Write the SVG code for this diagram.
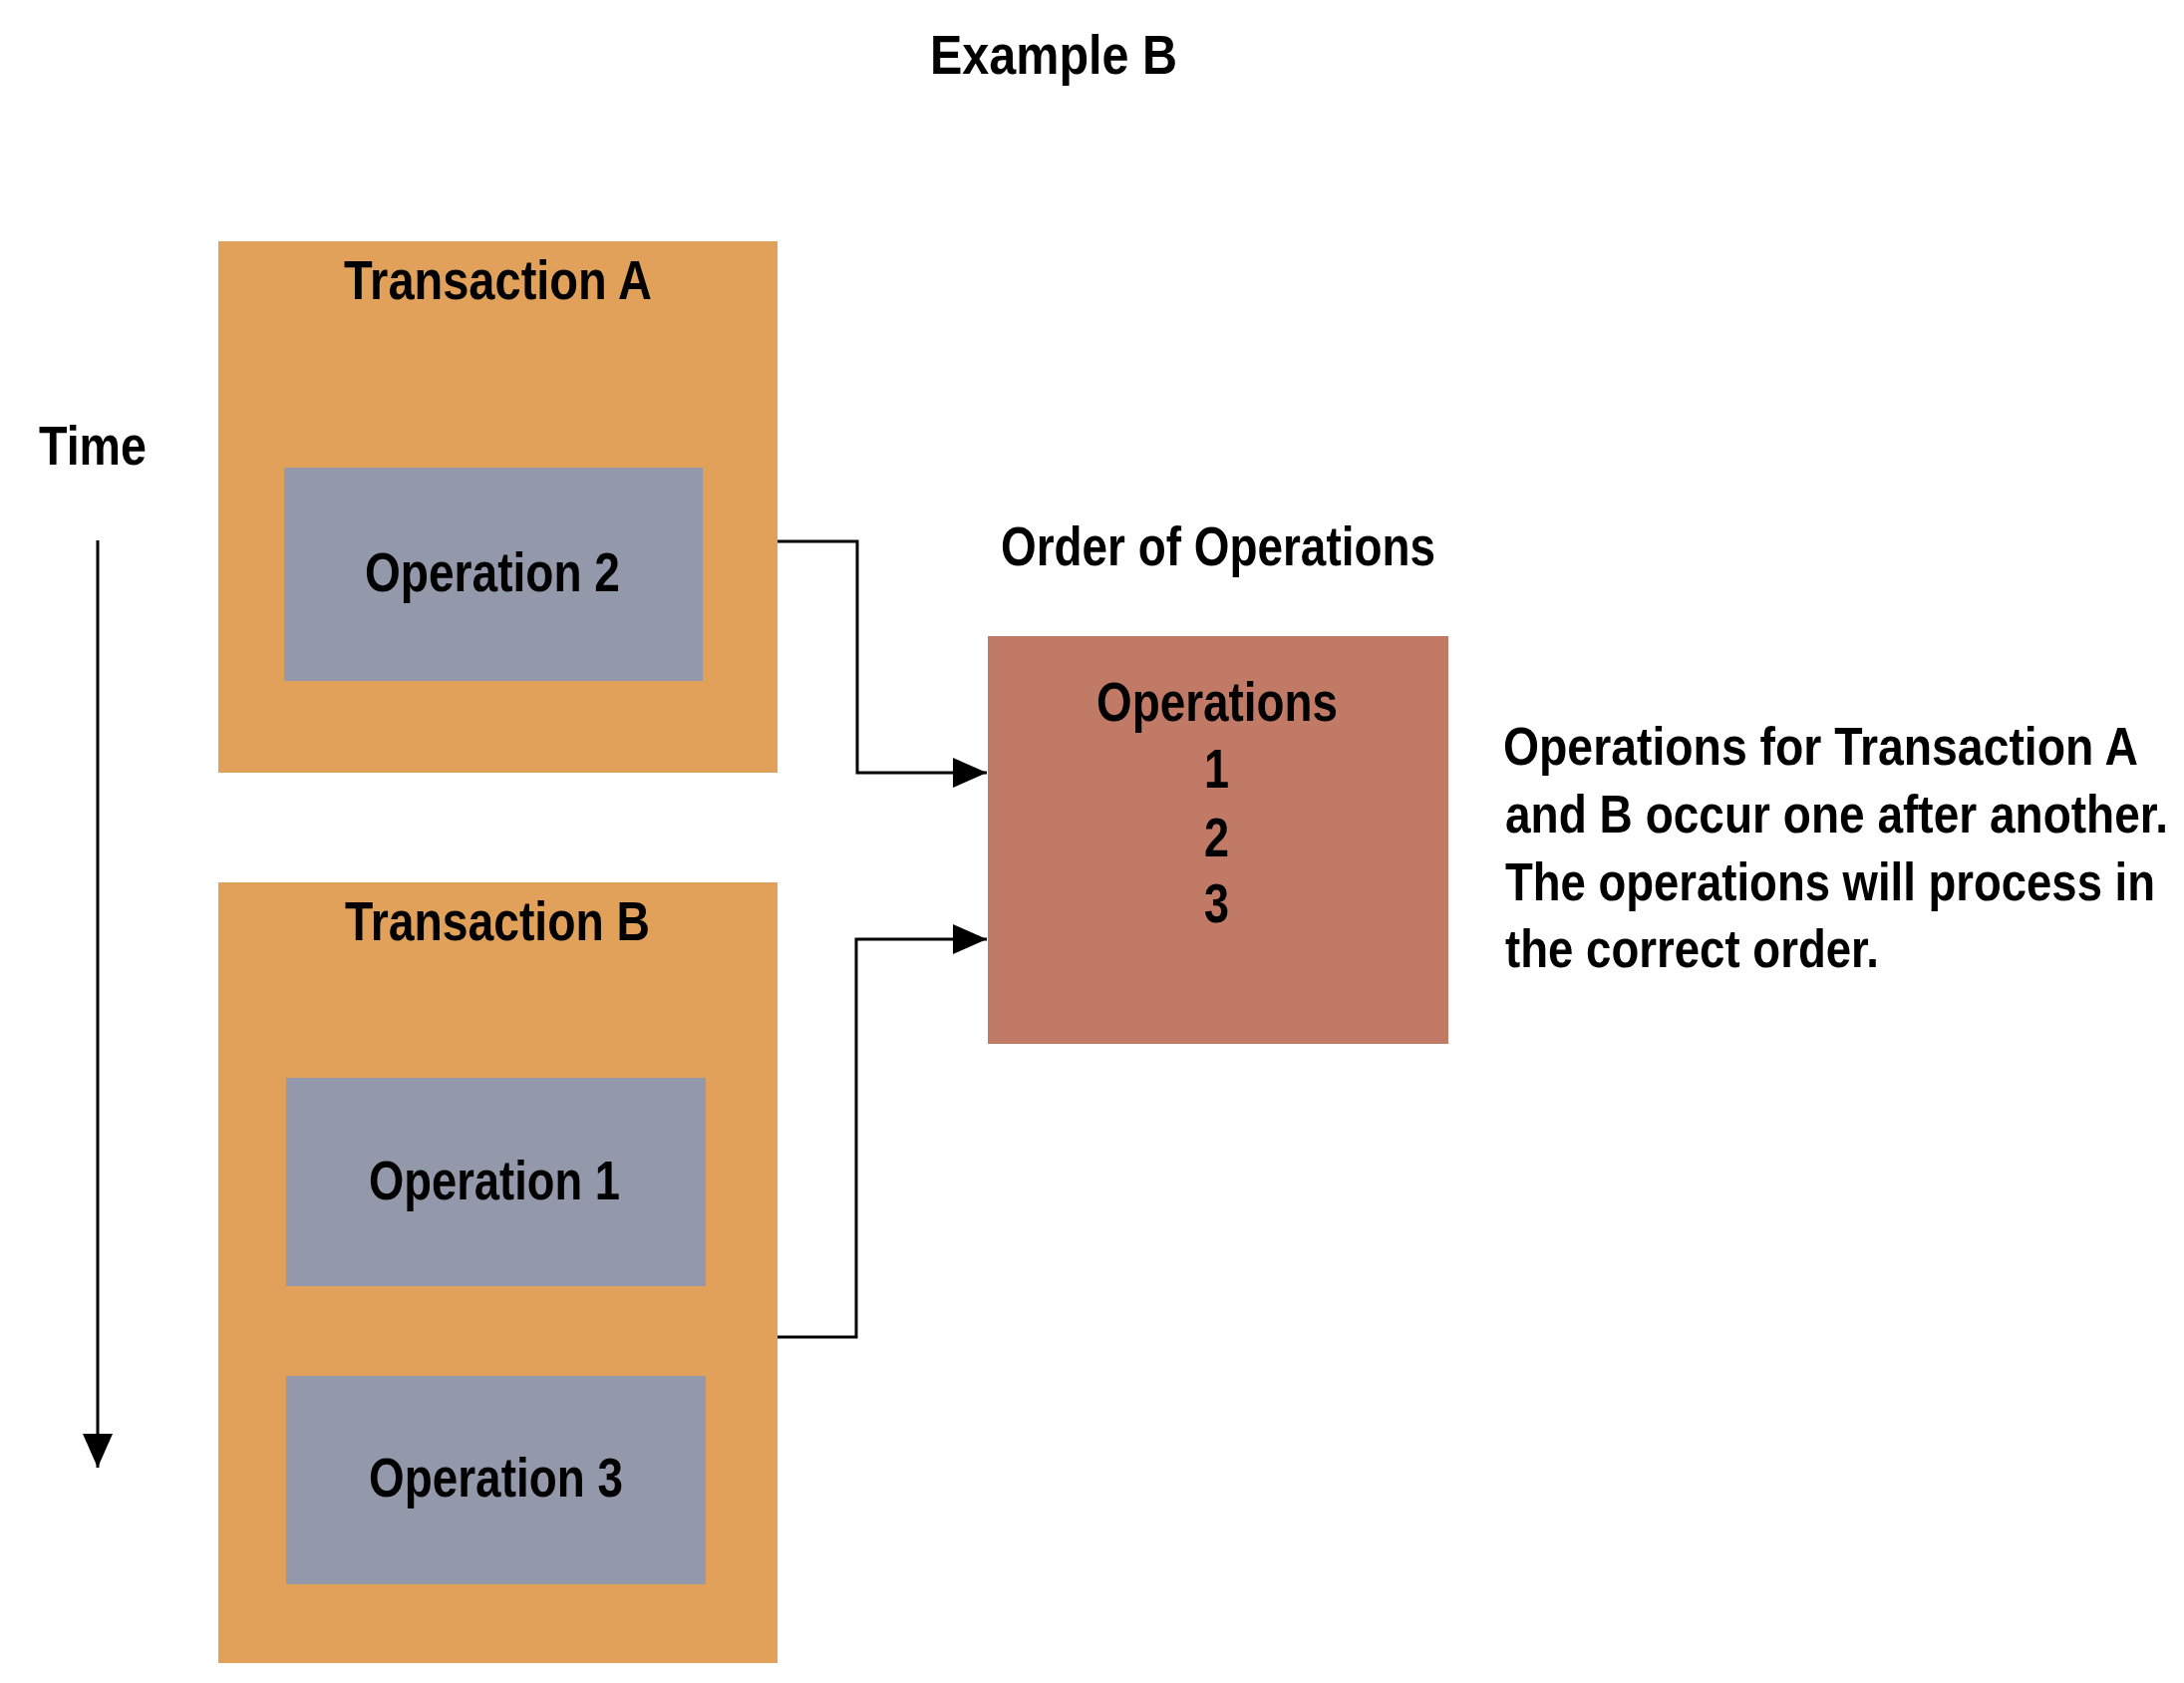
<svg xmlns="http://www.w3.org/2000/svg" width="2191" height="1688" viewBox="0 0 2191 1688">
<style>
text{font-family:"Liberation Sans Narrow","Liberation Sans",Arial,sans-serif;font-weight:bold;fill:#000;}
.t{font-size:55px;}
.p{font-size:53px;}
.txn{fill:#E1A15A;}
.op{fill:#9399AA;}
.ord{fill:#C07A66;}
.ln{fill:none;stroke:#000;stroke-width:3;}
</style>
<defs>
<marker id="ah" markerUnits="userSpaceOnUse" markerWidth="36" markerHeight="30" refX="34" refY="15" orient="auto">
<path d="M0,0 L34,15 L0,30 Z" fill="#000"/>
</marker>
</defs>
<rect width="2191" height="1688" fill="#fff"/>
<text id="title" class="t" x="933" y="74" font-size="58" textLength="248" lengthAdjust="spacingAndGlyphs">Example B</text>
<text id="time" class="t" x="39" y="466" textLength="108" lengthAdjust="spacingAndGlyphs">Time</text>
<g id="txnA">
<rect class="txn" x="219" y="242" width="561" height="533"/>
<text class="t" x="345" y="300" textLength="309" lengthAdjust="spacingAndGlyphs">Transaction A</text>
</g>
<g id="op2">
<rect class="op" x="285" y="469" width="420" height="214"/>
<text class="t" x="366" y="593" textLength="256" lengthAdjust="spacingAndGlyphs">Operation 2</text>
</g>
<g id="txnB">
<rect class="txn" x="219" y="885" width="561" height="783"/>
<text class="t" x="346" y="943" textLength="306" lengthAdjust="spacingAndGlyphs">Transaction B</text>
</g>
<g id="op1">
<rect class="op" x="287" y="1081" width="421" height="209"/>
<text class="t" x="370" y="1203" textLength="252" lengthAdjust="spacingAndGlyphs">Operation 1</text>
</g>
<g id="op3">
<rect class="op" x="287" y="1380" width="421" height="209"/>
<text class="t" x="370" y="1501" textLength="255" lengthAdjust="spacingAndGlyphs">Operation 3</text>
</g>
<text id="orderLabel" class="t" x="1004" y="567" textLength="436" lengthAdjust="spacingAndGlyphs">Order of Operations</text>
<g id="order">
<rect class="ord" x="991" y="638" width="462" height="409"/>
<text class="t" x="1100" y="723" font-size="53" textLength="242" lengthAdjust="spacingAndGlyphs">Operations</text>
<text class="t" x="1208" y="790" font-size="53" textLength="25" lengthAdjust="spacingAndGlyphs">1</text>
<text class="t" x="1208" y="859" font-size="53" textLength="25" lengthAdjust="spacingAndGlyphs">2</text>
<text class="t" x="1208" y="925" font-size="53" textLength="25" lengthAdjust="spacingAndGlyphs">3</text>
</g>
<g id="note">
<text class="p" x="1508" y="767" textLength="637" lengthAdjust="spacingAndGlyphs">Operations for Transaction A</text>
<text class="p" x="1510" y="835" textLength="665" lengthAdjust="spacingAndGlyphs">and B occur one after another.</text>
<text class="p" x="1510" y="903" textLength="652" lengthAdjust="spacingAndGlyphs">The operations will process in</text>
<text class="p" x="1510" y="970" textLength="375" lengthAdjust="spacingAndGlyphs">the correct order.</text>
</g>
<g id="connectors">
<path class="ln" d="M780,543 H860 V775 H990" marker-end="url(#ah)"/>
<path class="ln" d="M780,1341 H859 V942 H990" marker-end="url(#ah)"/>
<path class="ln" d="M98,542 V1472" marker-end="url(#ah)"/>
</g>
</svg>
